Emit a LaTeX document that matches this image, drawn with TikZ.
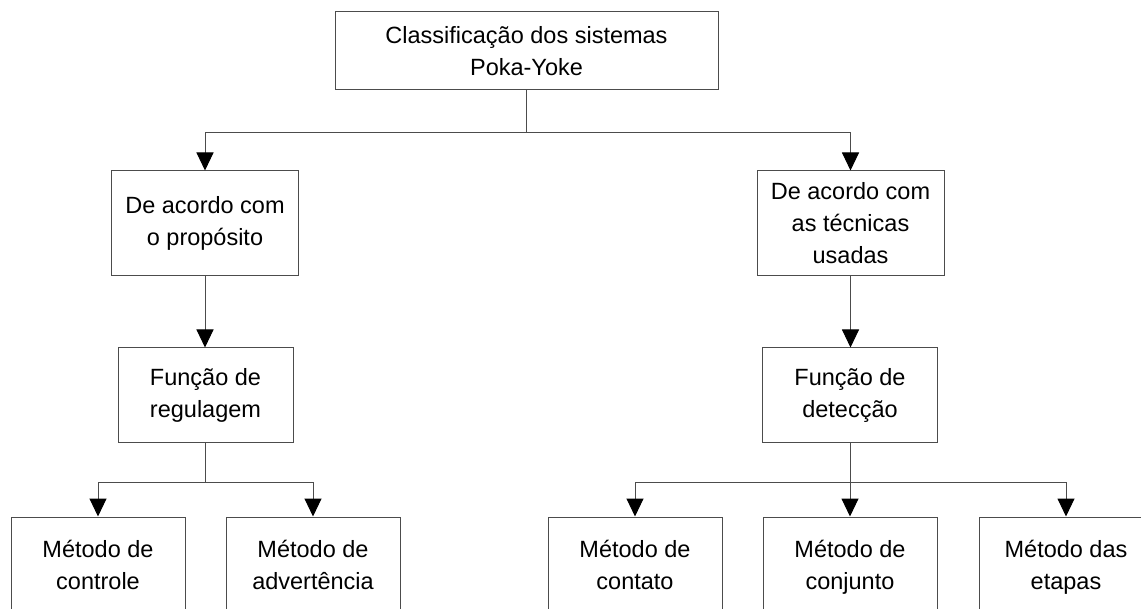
\documentclass[tikz,border=0pt]{standalone}
\usepackage{fontspec}
\setmainfont{Liberation Sans}
\usetikzlibrary{arrows.meta}
\begin{document}
\begin{tikzpicture}[x=1pt,y=-1pt,
  box/.style={draw=black!70, line width=1pt, align=center, inner sep=0pt,
    font=\fontsize{23.5}{32}\selectfont},
  link/.style={draw=black!70, line width=1pt},
  arr/.style={link, -{Triangle[length=18pt,width=17pt,color=black]}},
  lvltwo/.style={box, minimum width=187pt, minimum height=105pt},
  lvlthree/.style={box, minimum width=175pt, minimum height=95pt},
  leaf/.style={box, minimum width=174pt, minimum height=95pt, text depth=0pt}
]
\useasboundingbox (0,0) rectangle (1141,609);
\clip (0,0) rectangle (1141,609);

% root
\node[box, minimum width=383pt, minimum height=78pt] (root) at (526.5,51)
  {Classificação dos sistemas\\Poka-Yoke};

% second level
\node[lvltwo] (prop) at (205,223.5) {De acordo com\\o propósito};
\node[lvltwo] (tec) at (850.5,223.5) {De acordo com\\as técnicas\\usadas};

% third level
\node[lvlthree] (reg) at (205.5,395.5) {Função de\\regulagem};
\node[lvlthree] (det) at (850,395.5) {Função de\\detecção};

% leaves (boxes run past the lower edge)
\node[leaf] (ctrl) at (98,564.5) {Método de\\controle};
\node[leaf] (adv) at (313,564.5) {Método de\\advertência};
\node[leaf] (cont) at (635,564.5) {Método de\\contato};
\node[leaf] (conj) at (850,564.5) {Método de\\conjunto};
\node[leaf] (etap) at (1066,564.5) {Método das\\etapas};

% connectors
\draw[arr] (root.south) -- ++(0,42) -| (prop.north);
\draw[arr] (root.south) -- ++(0,42) -| (tec.north);
\draw[arr] (prop.south) -- (prop.south |- reg.north);
\draw[arr] (tec.south) -- (tec.south |- det.north);
\draw[arr] (reg.south) -- ++(0,39) -| (ctrl.north);
\draw[arr] (reg.south) -- ++(0,39) -| (adv.north);
\draw[arr] (det.south) -- ++(0,39) -| (cont.north);
\draw[arr] (det.south) -- (conj.north);
\draw[arr] (det.south) -- ++(0,39) -| (etap.north);
\end{tikzpicture}
\end{document}
